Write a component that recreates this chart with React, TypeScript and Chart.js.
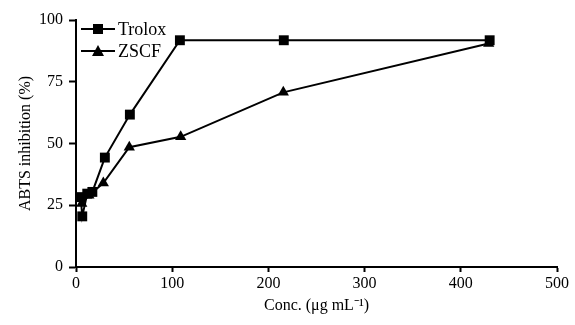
import React, { useEffect, useRef } from "react";
import { Chart, registerables } from "chart.js";

Chart.register(...registerables);

const troloxConc = [4.9, 6.5, 11.7, 17, 30, 56, 108, 216, 430];
const troloxInhibition = [28.3, 20.5, 29.7, 30.4, 44.3, 61.7, 91.8, 91.8, 91.8];
const zscfConc = [6, 13.4, 28.4, 55.4, 108.8, 215.5, 429];
const zscfInhibition = [25.7, 29, 34, 48.5, 52.7, 70.7, 90.5];
const xTicks = [0, 100, 200, 300, 400, 500];
const yTicks = [0, 25, 50, 75, 100];

const FONT = "'Liberation Serif', 'Times New Roman', serif";

const legendPlugin = {
  id: "lineLegend",
  afterDatasetsDraw(chart: any) {
    const ctx = chart.ctx;
    const x0 = chart.chartArea.left + 5;
    let y = chart.chartArea.top + 9;
    chart.data.datasets.forEach((ds: any) => {
      ctx.save();
      ctx.strokeStyle = "#000";
      ctx.lineWidth = 2;
      ctx.beginPath();
      ctx.moveTo(x0, y);
      ctx.lineTo(x0 + 34, y);
      ctx.stroke();
      ctx.fillStyle = "#000";
      if (ds.pointStyle === "rect") {
        ctx.fillRect(x0 + 17 - 5, y - 5, 10, 10);
      } else {
        ctx.beginPath();
        ctx.moveTo(x0 + 17, y - 6);
        ctx.lineTo(x0 + 23, y + 5);
        ctx.lineTo(x0 + 11, y + 5);
        ctx.closePath();
        ctx.fill();
      }
      ctx.font = `18px ${FONT}`;
      ctx.textBaseline = "middle";
      ctx.textAlign = "left";
      ctx.fillText(ds.label, x0 + 37, y + 1);
      ctx.restore();
      y += 22;
    });
  },
};

export default function App() {
  const ref = useRef<HTMLCanvasElement>(null);
  useEffect(() => {
    if (!ref.current) return;
    const chart = new Chart(ref.current, {
      type: "scatter",
      data: {
        datasets: [
          {
            label: "Trolox",
            data: troloxConc.map((x, i) => ({ x, y: troloxInhibition[i] })),
            showLine: true,
            borderColor: "#000",
            backgroundColor: "#000",
            borderWidth: 2,
            pointStyle: "rect",
            pointRadius: 7,
            pointBorderWidth: 0,
          },
          {
            label: "ZSCF",
            data: zscfConc.map((x, i) => ({ x, y: zscfInhibition[i] })),
            showLine: true,
            borderColor: "#000",
            backgroundColor: "#000",
            borderWidth: 2,
            pointStyle: "triangle",
            pointRadius: 6.5,
            pointBorderWidth: 0,
          },
        ],
      },
      options: {
        animation: false,
        responsive: false,
        layout: { padding: { left: 0, right: 18, top: 20, bottom: 0 } },
        plugins: { legend: { display: false }, tooltip: { enabled: false } },
        scales: {
          x: {
            type: "linear",
            min: 0,
            max: 500,
            afterBuildTicks: (s: any) => {
              s.ticks = xTicks.map((v) => ({ value: v }));
            },
            afterFit: (s: any) => {
              s.height = 58;
            },
            border: { color: "#000", width: 2 },
            grid: { drawOnChartArea: false, drawTicks: true, tickLength: 5, tickColor: "#000", tickWidth: 2 },
            ticks: { color: "#000", font: { family: FONT, size: 16 }, padding: 2, maxRotation: 0 },
            title: {
              display: true,
              text: "Conc. (μg mL⁻¹)",
              color: "#000",
              font: { family: FONT, size: 16 },
              padding: { top: 0, bottom: 10 },
            },
          },
          y: {
            type: "linear",
            min: 0,
            max: 100,
            afterBuildTicks: (s: any) => {
              s.ticks = yTicks.map((v) => ({ value: v }));
            },
            afterFit: (s: any) => {
              s.width = 76;
            },
            border: { color: "#000", width: 2 },
            grid: { drawOnChartArea: false, drawTicks: true, tickLength: 7, tickColor: "#000", tickWidth: 2 },
            ticks: { color: "#000", font: { family: FONT, size: 16 }, padding: 6 },
            title: {
              display: true,
              text: "ABTS inhibition (%)",
              color: "#000",
              font: { family: FONT, size: 16 },
              padding: { top: 16, bottom: 0 },
            },
          },
        },
      },
      plugins: [legendPlugin],
    } as any);
    return () => chart.destroy();
  }, []);
  return (
    <div style={{ position: "absolute", left: 0, top: 0, width: 575, height: 325, background: "#fff" }}>
      <canvas ref={ref} width={575} height={325} style={{ width: 575, height: 325 }} />
    </div>
  );
}
